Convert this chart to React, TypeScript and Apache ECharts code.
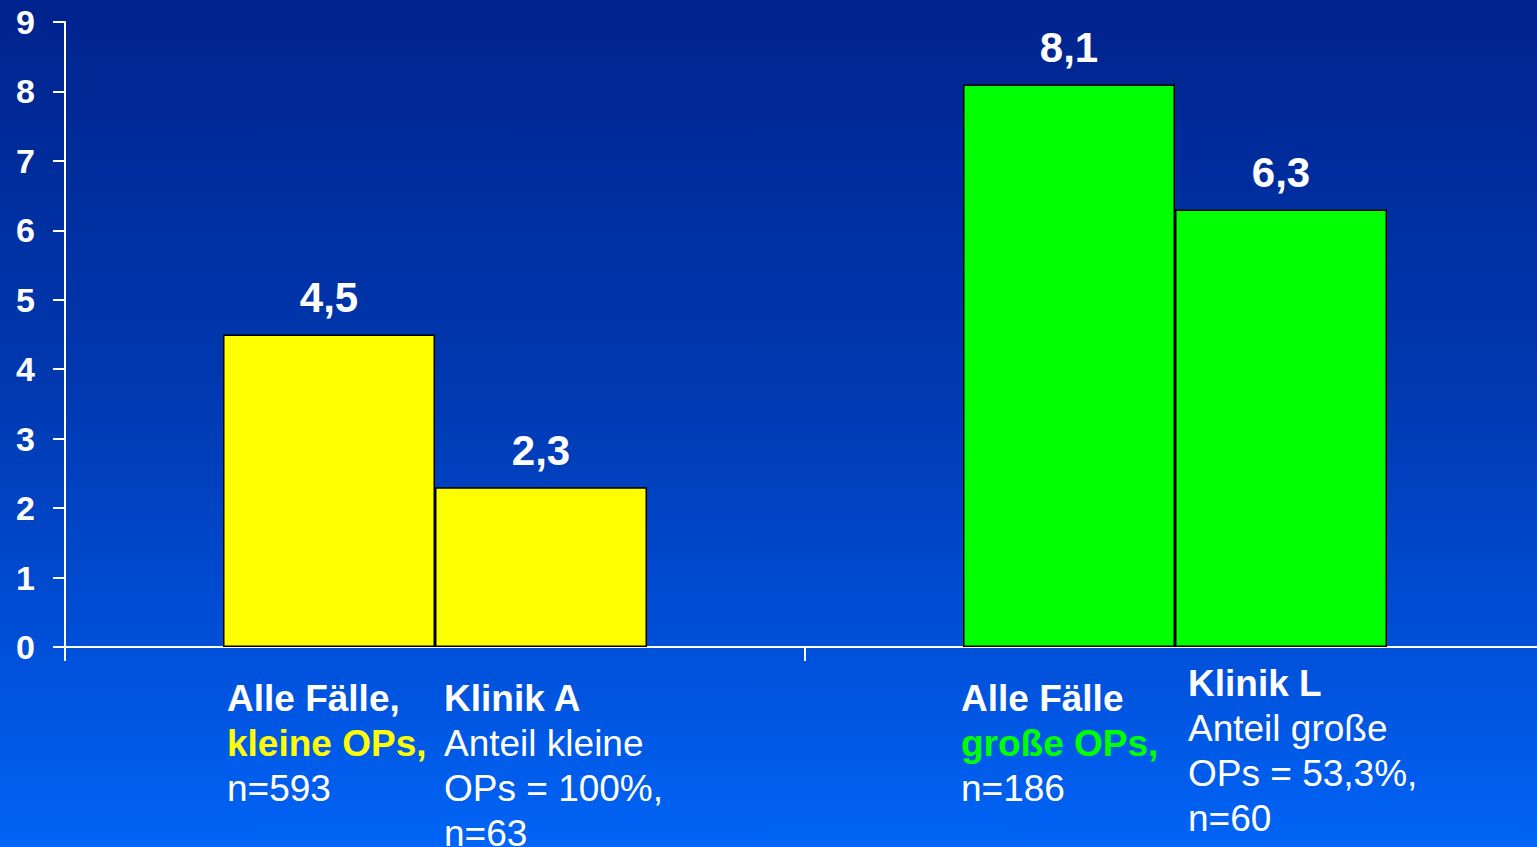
import React, { useEffect, useRef } from "react";
import * as echarts from "echarts";

const groupCategories = ["kleine OPs", "große OPs"];
const allCasesValues = [4.5, 8.1];
const clinicValues = [2.3, 6.3];
const groupColors = ["#ffff00", "#00ff00"];
const yTickMax = 9;

const allCasesTitle = ["Alle Fälle,", "Alle Fälle"];
const allCasesGroup = ["kleine OPs,", "große OPs,"];
const allCasesN = ["n=593", "n=186"];
const clinicTitle = ["Klinik A", "Klinik L"];
const clinicShare = ["Anteil kleine", "Anteil große"];
const clinicShareValue = ["OPs = 100%,", "OPs = 53,3%,"];
const clinicN = ["n=63", "n=60"];

const FONT = 'Arial, "Liberation Sans", sans-serif';
const BAR_W = 212;

const fmt = (v: number) => String(v).replace(".", ",");

export default function App() {
  const ref = useRef<HTMLDivElement>(null);
  useEffect(() => {
    if (!ref.current) return;
    const chart = echarts.init(ref.current, null, { renderer: "svg" });

    const labelData: any[] = [];
    groupCategories.forEach((_, i) => {
      labelData.push([i, 0, 0]);
      labelData.push([i, 0, 1]);
    });

    const textFor = (cat: number, side: number) => {
      if (side === 0) {
        const colorKey = cat === 0 ? "y" : "g";
        return `{b|${allCasesTitle[cat]}}\n{${colorKey}|${allCasesGroup[cat]}}\n{n|${allCasesN[cat]}}`;
      }
      return `{b|${clinicTitle[cat]}}\n{n|${clinicShare[cat]}}\n{n|${clinicShareValue[cat]}}\n{n|${clinicN[cat]}}`;
    };

    const xOffsets = [[4, 9], [-2, 13]];
    const yOffsets = [[29, 29], [29, 14]];

    const barLabel = {
      show: true,
      position: "top",
      distance: 16,
      color: "#ffffff",
      fontFamily: FONT,
      fontWeight: "bold",
      fontSize: 42,
      formatter: (p: any) => fmt(p.value),
    };

    const fs = 37;
    const lh = 45;

    chart.setOption({
      animation: false,
      backgroundColor: new echarts.graphic.LinearGradient(0, 0, 0, 1, [
        { offset: 0, color: "#00238d" },
        { offset: 0.45, color: "#0038b0" },
        { offset: 0.76, color: "#004fd8" },
        { offset: 1, color: "#0064f6" },
      ]),
      grid: { left: 65, right: 0, top: 22, bottom: 200 },
      xAxis: {
        type: "category",
        data: groupCategories,
        axisLine: { lineStyle: { color: "#ffffff", width: 2 } },
        axisTick: { show: true, length: 14, lineStyle: { color: "#ffffff", width: 2 } },
        axisLabel: { show: false },
      },
      yAxis: {
        type: "value",
        min: 0,
        max: yTickMax,
        interval: 1,
        splitLine: { show: false },
        axisLine: { show: true, lineStyle: { color: "#ffffff", width: 2 } },
        axisTick: { show: true, length: 12, lineStyle: { color: "#ffffff", width: 2 } },
        axisLabel: {
          color: "#ffffff",
          fontFamily: FONT,
          fontWeight: "bold",
          fontSize: 34,
          margin: 30,
        },
      },
      series: [
        {
          type: "bar",
          name: "Alle Fälle",
          barWidth: BAR_W,
          barGap: "0%",
          data: allCasesValues.map((v, i) => ({
            value: v,
            itemStyle: { color: groupColors[i], borderColor: "#000000", borderWidth: 1.5 },
          })),
          label: barLabel,
        },
        {
          type: "bar",
          name: "Klinik",
          barWidth: BAR_W,
          barGap: "0%",
          data: clinicValues.map((v, i) => ({
            value: v,
            itemStyle: { color: groupColors[i], borderColor: "#000000", borderWidth: 1.5 },
          })),
          label: barLabel,
        },
        {
          type: "custom",
          clip: false,
          encode: { x: 0, y: 1 },
          data: labelData,
          renderItem: (params: any, api: any) => {
            const cat = api.value(0);
            const side = api.value(2);
            const p = api.coord([cat, 0]);
            const x = p[0] + (side === 0 ? -BAR_W : 0) + xOffsets[cat][side];
            const y = p[1] + yOffsets[cat][side];
            return {
              type: "text",
              x,
              y,
              style: {
                text: textFor(cat, side),
                align: "left",
                verticalAlign: "top",
                fill: "#ffffff",
                font: `${fs}px ${FONT}`,
                rich: {
                  b: { fill: "#ffffff", fontWeight: "bold", fontSize: fs, fontFamily: FONT, lineHeight: lh },
                  y: { fill: "#ffff00", fontWeight: "bold", fontSize: fs, fontFamily: FONT, lineHeight: lh },
                  g: { fill: "#00ff00", fontWeight: "bold", fontSize: fs, fontFamily: FONT, lineHeight: lh },
                  n: { fill: "#ffffff", fontWeight: "normal", fontSize: fs, fontFamily: FONT, lineHeight: lh },
                },
              },
            };
          },
        },
      ],
    });
    return () => chart.dispose();
  }, []);
  return (
    <div
      style={{
        position: "absolute",
        left: 0,
        top: 0,
        width: 1537,
        height: 847,
        overflow: "hidden",
      }}
    >
      <div ref={ref} style={{ position: "absolute", left: 0, top: 0, width: 1545, height: 847 }} />
    </div>
  );
}
